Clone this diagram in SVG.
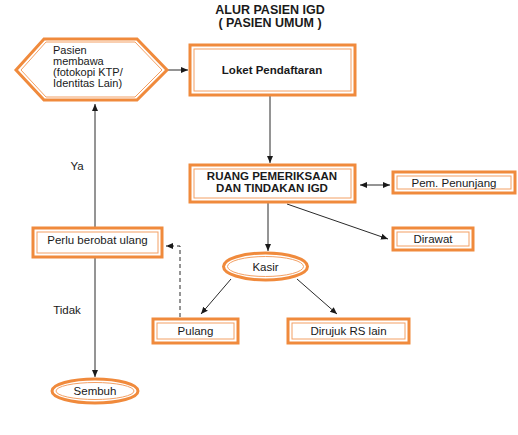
<svg xmlns="http://www.w3.org/2000/svg" width="518" height="435" viewBox="0 0 518 435">
<style>
.o{fill:#fff;stroke:#F08A3C;stroke-width:3}
.i{fill:none;stroke:#F3A064;stroke-width:1}
.t{font-family:"Liberation Sans",Arial,sans-serif;font-size:11.5px;fill:#1a1a1a}
.b{font-weight:bold}
.h{font-size:12.5px}
.s{font-size:11px}
.c{stroke:#2a2a2a;stroke-width:1;fill:none}
.d{stroke-dasharray:4,3}
</style>
<defs>
<marker id="a" markerUnits="userSpaceOnUse" markerWidth="8" markerHeight="8" refX="7" refY="4" orient="auto">
<path d="M0,1 L7,4 L0,7 Z" fill="#1a1a1a"/>
</marker>
<marker id="s" markerUnits="userSpaceOnUse" markerWidth="8" markerHeight="8" refX="0" refY="4" orient="auto">
<path d="M7,1 L0,4 L7,7 Z" fill="#1a1a1a"/>
</marker>
</defs>
<rect width="518" height="435" fill="#fff"/>
<g id="title">
<text class="t b h" x="270" y="14" text-anchor="middle">ALUR PASIEN IGD</text>
<text class="t b h" x="270" y="27" text-anchor="middle">( PASIEN UMUM )</text>
</g>
<g id="connectors">
<line class="c" x1="168" y1="70" x2="188" y2="70" marker-end="url(#a)"/>
<line class="c" x1="270" y1="96" x2="270" y2="163" marker-end="url(#a)"/>
<line class="c" x1="360" y1="185" x2="390" y2="185" marker-start="url(#s)" marker-end="url(#a)"/>
<line class="c" x1="287" y1="204" x2="388" y2="239" marker-end="url(#a)"/>
<line class="c" x1="268" y1="203" x2="268" y2="251" marker-end="url(#a)"/>
<line class="c" x1="231" y1="279" x2="201" y2="314" marker-end="url(#a)"/>
<line class="c" x1="297" y1="279" x2="337" y2="314" marker-end="url(#a)"/>
<polyline class="c d" points="180,317 180,246 166,246" marker-end="url(#a)"/>
<line class="c" x1="95" y1="227" x2="95" y2="104" marker-end="url(#a)"/>
<line class="c" x1="95" y1="258" x2="95" y2="377" marker-end="url(#a)"/>
<text class="t" x="77" y="170" text-anchor="middle">Ya</text>
<text class="t" x="67" y="314" text-anchor="middle">Tidak</text>
</g>
<g id="pasien">
<polygon class="o" points="16,70 44,39 137,39 167,70 137,100 44,100"/>
<polygon class="i" points="21,70 46,42 135,42 162,70 135,97 46,97"/>
<text class="t s" x="53" y="54">Pasien</text>
<text class="t s" x="53" y="65">membawa</text>
<text class="t s" x="53" y="76">(fotokopi KTP/</text>
<text class="t s" x="53" y="87">Identitas Lain)</text>
</g>
<g id="loket">
<rect class="o" x="190" y="45" width="165" height="50"/>
<rect class="i" x="194" y="49" width="157" height="42"/>
<text class="t b" x="272" y="74" text-anchor="middle">Loket Pendaftaran</text>
</g>
<g id="ruang">
<rect class="o" x="190" y="165" width="165" height="37"/>
<rect class="i" x="194" y="169" width="157" height="29"/>
<text class="t b" x="272" y="180" text-anchor="middle">RUANG PEMERIKSAAN</text>
<text class="t b" x="272" y="192" text-anchor="middle">DAN TINDAKAN IGD</text>
</g>
<g id="penunjang">
<rect class="o" x="393" y="172" width="122" height="21"/>
<rect class="i" x="397" y="176" width="114" height="13"/>
<text class="t" x="454" y="187" text-anchor="middle">Pem. Penunjang</text>
</g>
<g id="dirawat">
<rect class="o" x="393" y="228" width="80" height="22"/>
<rect class="i" x="397" y="232" width="72" height="14"/>
<text class="t" x="433" y="243" text-anchor="middle">Dirawat</text>
</g>
<g id="kasir">
<ellipse class="o" cx="265.5" cy="266.5" rx="42" ry="13.5"/>
<ellipse class="i" cx="265.5" cy="266.5" rx="38" ry="10"/>
<text class="t" x="265.5" y="270.5" text-anchor="middle">Kasir</text>
</g>
<g id="perlu">
<rect class="o" x="33" y="228" width="129" height="29"/>
<rect class="i" x="37" y="232" width="121" height="21"/>
<text class="t" x="97.5" y="244" text-anchor="middle">Perlu berobat ulang</text>
</g>
<g id="pulang">
<rect class="o" x="153" y="319" width="85" height="24"/>
<rect class="i" x="157" y="323" width="77" height="16"/>
<text class="t" x="195.5" y="335" text-anchor="middle">Pulang</text>
</g>
<g id="dirujuk">
<rect class="o" x="288" y="319" width="121" height="24"/>
<rect class="i" x="292" y="323" width="113" height="16"/>
<text class="t" x="348.5" y="335" text-anchor="middle">Dirujuk RS lain</text>
</g>
<g id="sembuh">
<ellipse class="o" cx="95" cy="391" rx="43" ry="12"/>
<ellipse class="i" cx="95" cy="391" rx="39" ry="8.5"/>
<text class="t" x="95" y="395" text-anchor="middle">Sembuh</text>
</g>
</svg>
